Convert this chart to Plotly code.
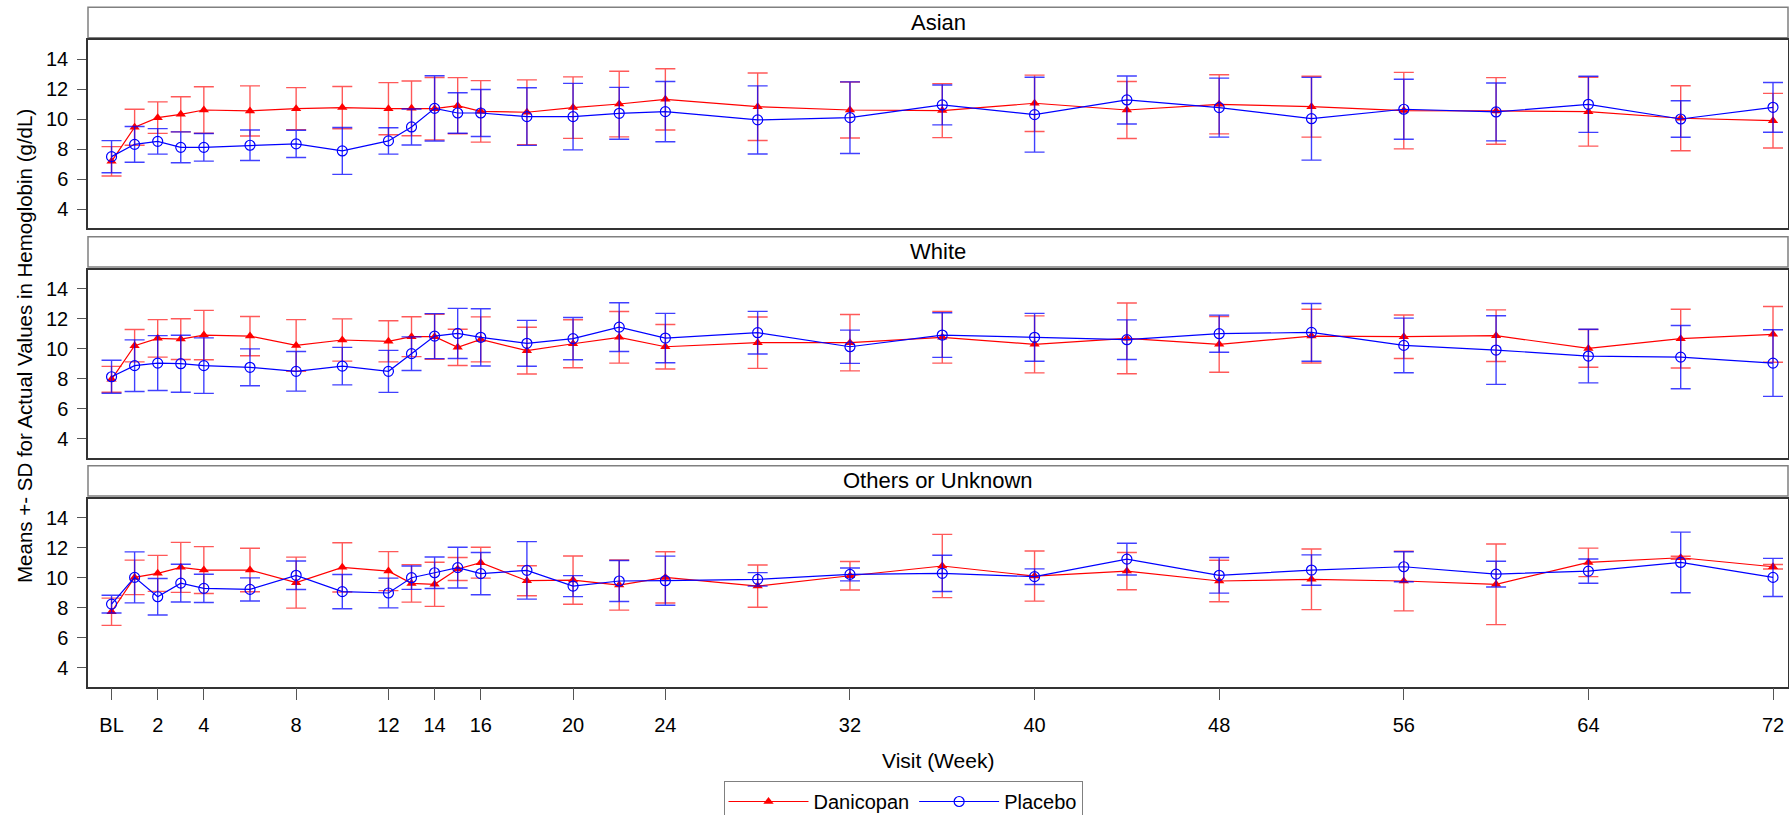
import plotly.graph_objects as go

weeks = [0, 1, 2, 3, 4, 6, 8, 10, 12, 13, 14, 15, 16, 18, 20, 22, 24, 28, 32, 36, 40, 44, 48, 52, 56, 60, 64, 68, 72]

asian_dan_mean = [7.20, 9.47, 10.11, 10.33, 10.62, 10.56, 10.71, 10.78, 10.71, 10.73, 10.71, 10.91, 10.53, 10.47, 10.78, 11.02, 11.33, 10.84, 10.62, 10.58, 11.07, 10.62, 11.00, 10.84, 10.58, 10.56, 10.51, 10.07, 9.91]
asian_dan_sd = [0.98, 1.20, 1.05, 1.17, 1.55, 1.67, 1.40, 1.41, 1.74, 1.83, 2.08, 1.87, 2.05, 2.16, 2.05, 2.19, 2.04, 2.25, 1.87, 1.80, 1.88, 1.90, 1.97, 2.03, 2.55, 2.22, 2.30, 2.17, 1.82]
asian_pbo_mean = [7.51, 8.33, 8.53, 8.13, 8.13, 8.27, 8.36, 7.89, 8.56, 9.49, 10.73, 10.42, 10.42, 10.18, 10.18, 10.40, 10.51, 9.96, 10.11, 10.96, 10.31, 11.29, 10.78, 10.04, 10.67, 10.49, 11.00, 10.02, 10.80]
asian_pbo_sd = [1.07, 1.19, 0.85, 1.03, 0.92, 1.02, 0.91, 1.56, 0.88, 1.20, 2.18, 1.35, 1.57, 1.92, 2.22, 1.73, 2.01, 2.27, 2.39, 1.33, 2.50, 1.60, 1.97, 2.76, 2.00, 1.93, 1.87, 1.22, 1.66]

white_dan_mean = [7.96, 10.20, 10.69, 10.64, 10.91, 10.84, 10.22, 10.58, 10.49, 10.80, 10.80, 10.09, 10.62, 9.87, 10.33, 10.76, 10.13, 10.40, 10.40, 10.76, 10.29, 10.69, 10.29, 10.84, 10.80, 10.87, 10.02, 10.67, 10.96]
white_dan_sd = [0.86, 1.08, 1.25, 1.36, 1.65, 1.31, 1.72, 1.41, 1.37, 1.33, 1.50, 1.21, 1.50, 1.56, 1.60, 1.72, 1.48, 1.71, 1.88, 1.72, 1.90, 2.36, 1.86, 1.79, 1.45, 1.72, 1.26, 1.96, 1.86]
white_pbo_mean = [8.13, 8.87, 9.04, 9.00, 8.87, 8.76, 8.49, 8.84, 8.49, 9.67, 10.84, 11.02, 10.76, 10.36, 10.67, 11.44, 10.71, 11.07, 10.13, 10.91, 10.76, 10.60, 11.00, 11.09, 10.22, 9.91, 9.51, 9.44, 9.04]
white_pbo_sd = [1.10, 1.72, 1.83, 1.90, 1.85, 1.23, 1.32, 1.25, 1.40, 1.12, 1.50, 1.67, 1.91, 1.53, 1.41, 1.63, 1.65, 1.42, 1.11, 1.49, 1.60, 1.32, 1.24, 1.93, 1.82, 2.29, 1.79, 2.11, 2.22]

other_dan_mean = [7.73, 10.02, 10.29, 10.69, 10.51, 10.51, 9.67, 10.69, 10.44, 9.62, 9.56, 10.58, 11.00, 9.80, 9.84, 9.51, 10.02, 9.44, 10.13, 10.78, 10.11, 10.44, 9.78, 9.89, 9.78, 9.56, 11.02, 11.33, 10.73]
other_dan_sd = [0.91, 1.15, 1.20, 1.67, 1.56, 1.45, 1.70, 1.64, 1.30, 1.25, 1.47, 0.77, 1.03, 1.00, 1.61, 1.67, 1.71, 1.41, 0.95, 2.11, 1.67, 1.24, 1.38, 2.02, 1.99, 2.69, 0.95, 0.10, 0.15]
other_pbo_mean = [8.24, 10.02, 8.73, 9.64, 9.29, 9.22, 10.16, 9.07, 8.98, 10.00, 10.33, 10.67, 10.27, 10.49, 9.44, 9.78, 9.80, 9.89, 10.22, 10.29, 10.07, 11.24, 10.16, 10.51, 10.73, 10.24, 10.44, 11.02, 10.02]
other_pbo_sd = [0.59, 1.70, 1.22, 1.26, 0.94, 0.77, 0.95, 1.14, 0.99, 0.78, 1.05, 1.36, 1.41, 1.92, 0.70, 1.37, 1.64, 0.45, 0.43, 1.21, 0.52, 1.06, 1.19, 1.01, 1.00, 0.86, 0.81, 2.02, 1.27]

panel_titles = ["Asian", "White", "Others or Unknown"]
x_tickvals = [0, 2, 4, 8, 12, 14, 16, 20, 24, 32, 40, 48, 56, 64, 72]
x_ticktext = ["BL", "2", "4", "8", "12", "14", "16", "20", "24", "32", "40", "48", "56", "64", "72"]
y_tickvals = [4, 6, 8, 10, 12, 14]

panels = [
    (asian_dan_mean, asian_dan_sd, asian_pbo_mean, asian_pbo_sd),
    (white_dan_mean, white_dan_sd, white_pbo_mean, white_pbo_sd),
    (other_dan_mean, other_dan_sd, other_pbo_mean, other_pbo_sd),
]

FONT = "Liberation Sans, Arial, sans-serif"
W, H = 1789, 815
ML, MR, MT, MB = 88, 1, 7, 128
PH = H - MT - MB  # plotting height in px
PW = W - ML - MR
RED = "#FF0000"
BLUE = "#0000FF"

plot_px = [(40.3, 228.3), (269.7, 457.7), (498.7, 686.7)]
header_px = [(7.3, 37.7), (236.7, 267.0), (465.7, 496.0)]


def py(p):
    return (H - MB - p) / PH


def px(p):
    return (p - ML) / PW


fig = go.Figure()

for i, (dm, ds, pm, ps) in enumerate(panels):
    n = i + 1
    xa = "x" if n == 1 else f"x{n}"
    ya = "y" if n == 1 else f"y{n}"
    fig.add_trace(go.Scatter(
        x=weeks, y=dm, xaxis=xa, yaxis=ya, mode="lines+markers",
        name="Danicopan", legendgroup="dan", showlegend=(n == 1),
        line=dict(color=RED, width=1.2),
        marker=dict(symbol="triangle-up", size=9, color=RED),
        error_y=dict(type="data", array=ds, symmetric=True, color="rgba(255,0,0,0.65)",
                     thickness=1.4, width=10),
    ))
    fig.add_trace(go.Scatter(
        x=weeks, y=pm, xaxis=xa, yaxis=ya, mode="lines+markers",
        name="Placebo", legendgroup="pbo", showlegend=(n == 1),
        line=dict(color=BLUE, width=1.2),
        marker=dict(symbol="circle-open", size=10, color=BLUE, line=dict(width=1.2)),
        error_y=dict(type="data", array=ps, symmetric=True, color="rgba(0,0,255,0.75)",
                     thickness=1.4, width=10),
    ))

layout = dict(
    width=W, height=H,
    margin=dict(l=ML, r=MR, t=MT, b=MB, autoexpand=False),
    paper_bgcolor="white", plot_bgcolor="white",
    font=dict(family=FONT, size=20, color="black"),
    showlegend=True,
    legend=dict(
        orientation="h", x=px(903), xanchor="center",
        y=py(781), yanchor="top", bordercolor="#808080", borderwidth=1,
        font=dict(size=20), itemwidth=80, tracegroupgap=0,
        bgcolor="white",
    ),
)

shapes = []
annotations = []
for i in range(3):
    n = i + 1
    top, bot = plot_px[i]
    xkey = "xaxis" if n == 1 else f"xaxis{n}"
    ykey = "yaxis" if n == 1 else f"yaxis{n}"
    anchor_x = "x" if n == 1 else f"x{n}"
    anchor_y = "y" if n == 1 else f"y{n}"
    last = (n == 3)
    layout[xkey] = dict(
        domain=[0, 1], anchor=anchor_y, range=[-1.02, 72.65], automargin=False,
        showgrid=False, zeroline=False,
        showline=True, mirror=True, linecolor="#333333", linewidth=1.5,
        tickmode="array", tickvals=x_tickvals, ticktext=x_ticktext,
        ticks="outside" if last else "", ticklen=12, tickwidth=1, tickcolor="#555555",
        showticklabels=last, ticklabelstandoff=8,
        tickfont=dict(size=20),
    )
    if n > 1:
        layout[xkey]["matches"] = "x"
    layout[ykey] = dict(
        domain=[py(bot), py(top)], anchor=anchor_x, range=[2.73, 15.27], automargin=False,
        showgrid=False, zeroline=False,
        showline=True, mirror=True, linecolor="#333333", linewidth=1.5,
        tickmode="array", tickvals=y_tickvals,
        ticks="outside", ticklen=9, tickwidth=1, tickcolor="#555555",
        ticklabelstandoff=5, tickfont=dict(size=20),
    )
    htop, hbot = header_px[i]
    shapes.append(dict(
        type="rect", xref="paper", yref="paper", x0=0, x1=1,
        y0=py(hbot), y1=py(htop), line=dict(color="#808080", width=1.5),
        fillcolor="white", layer="below",
    ))
    annotations.append(dict(
        text=panel_titles[i], xref="paper", yref="paper", x=0.5, y=py((htop + hbot) / 2),
        xanchor="center", yanchor="middle", showarrow=False, font=dict(size=22),
    ))

annotations.append(dict(
    text="Visit (Week)", xref="paper", yref="paper", x=px(938),
    y=py(760.7), xanchor="center", yanchor="middle", showarrow=False, font=dict(size=21),
))
annotations.append(dict(
    text="Means +- SD for Actual Values in Hemoglobin (g/dL)", xref="paper", yref="paper",
    x=px(24), xanchor="center", y=py(346), yanchor="middle",
    textangle=-90, showarrow=False, font=dict(size=20.5),
))

layout["shapes"] = shapes
layout["annotations"] = annotations
fig.update_layout(**layout)

fig.write_html(
    "out.html",
    config={"displayModeBar": False},
    post_script="document.body.style.margin='0';document.body.style.overflow='hidden';",
)
